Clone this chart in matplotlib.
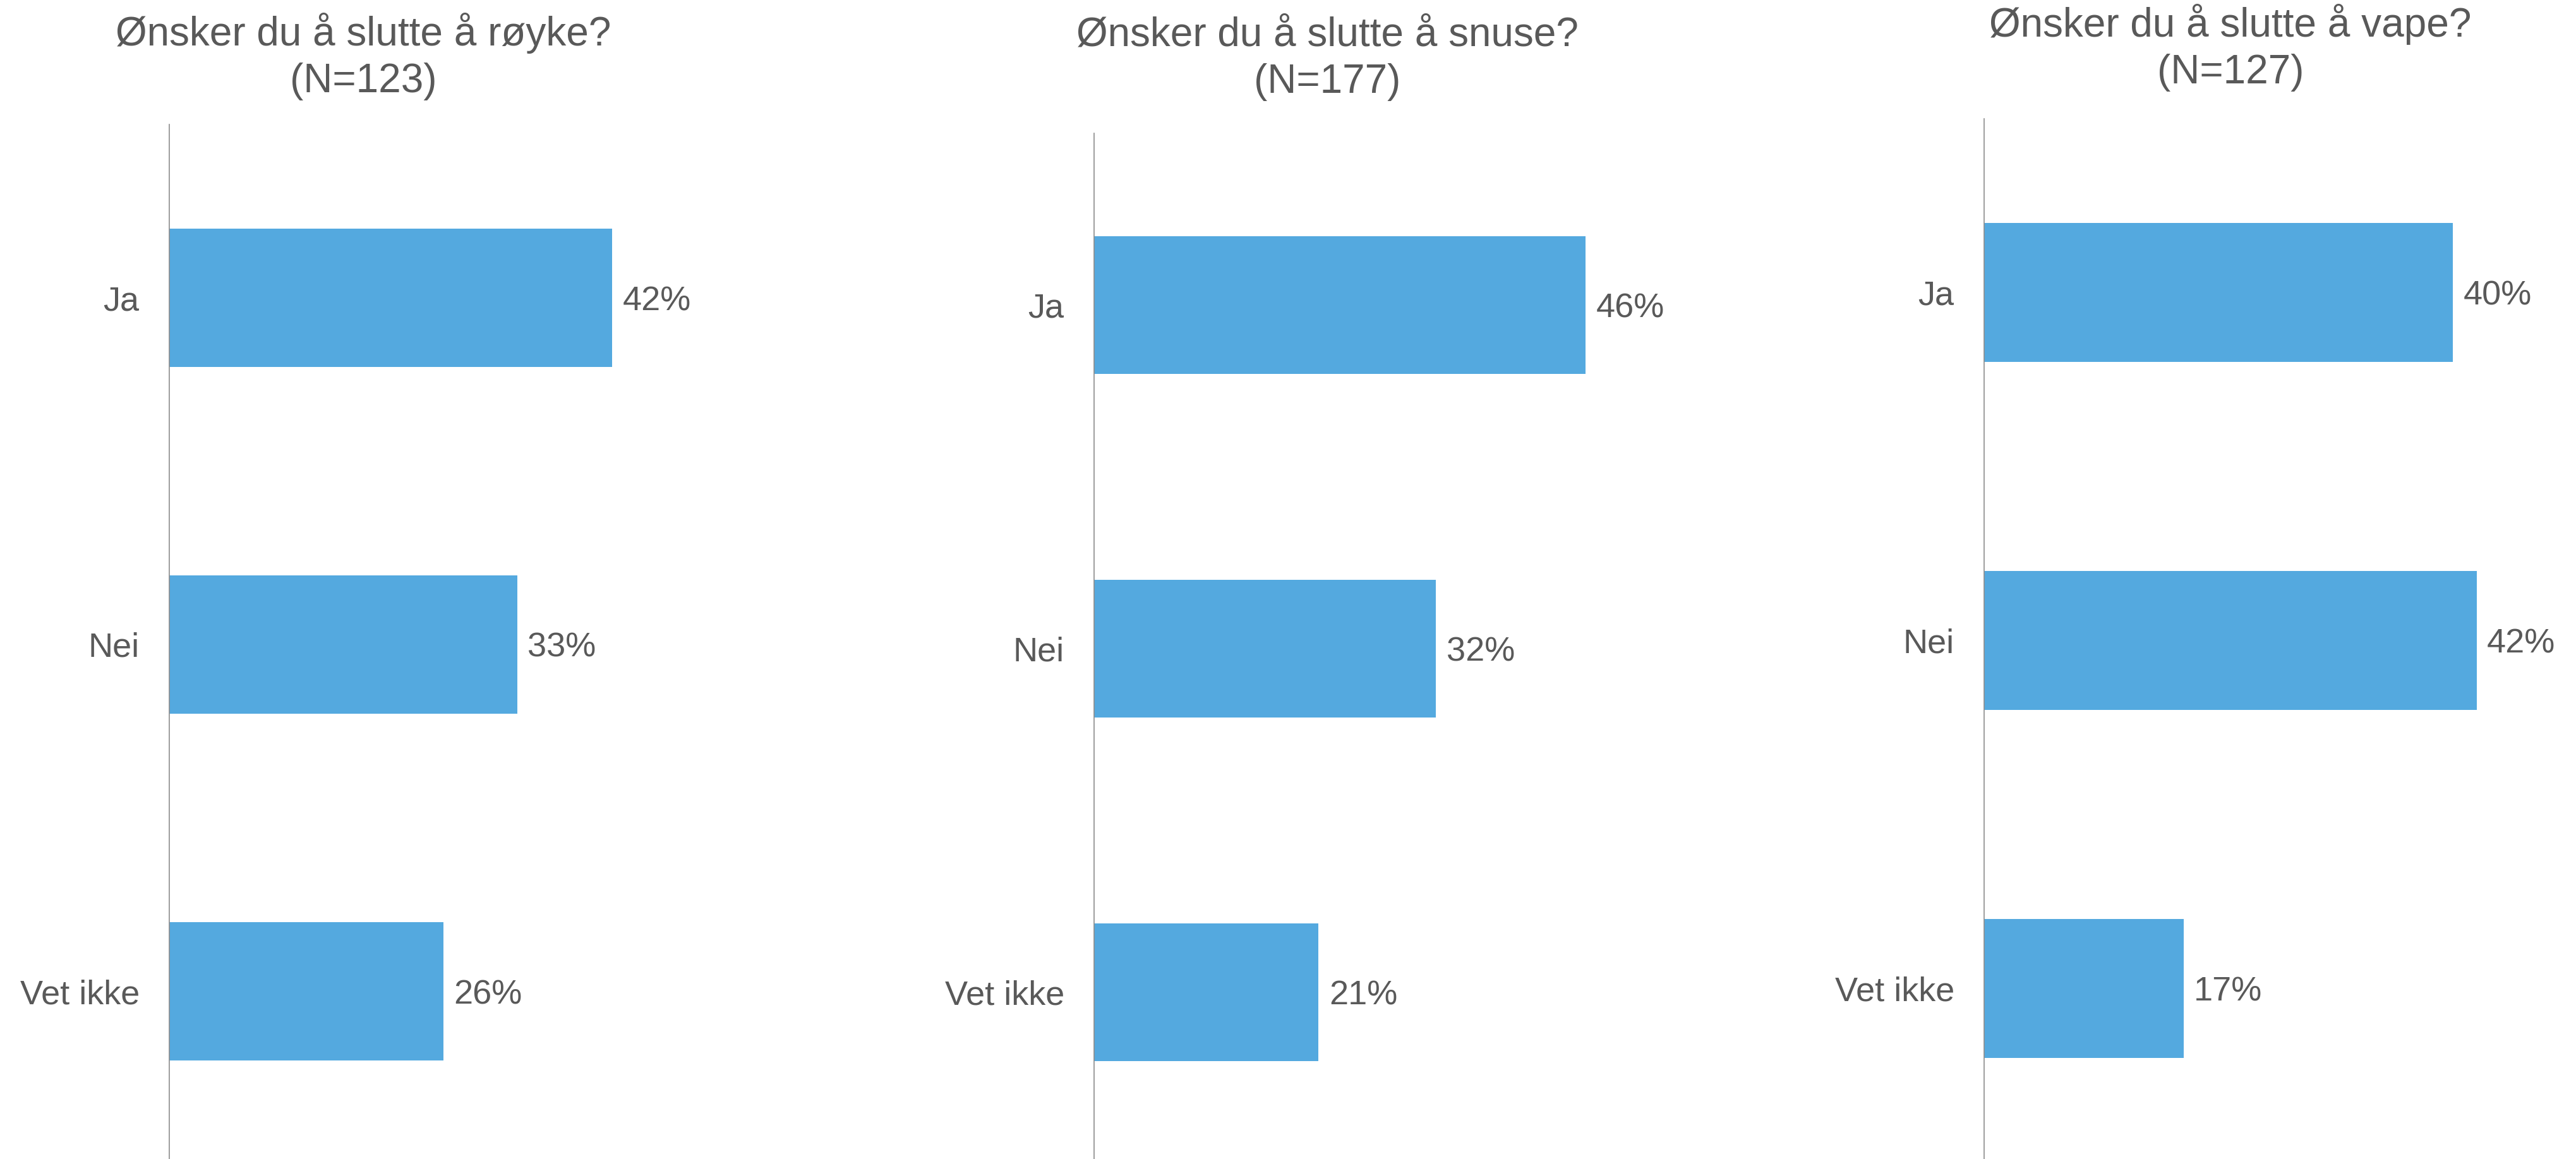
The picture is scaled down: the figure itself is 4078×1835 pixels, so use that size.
import matplotlib
matplotlib.use("Agg")
import matplotlib.pyplot as plt

plt.rcParams['font.family'] = ['Liberation Sans', 'DejaVu Sans']

categories = ["Ja", "Nei", "Vet ikke"]
titles = ["Ønsker du å slutte å røyke?\n(N=123)",
          "Ønsker du å slutte å snuse?\n(N=177)",
          "Ønsker du å slutte å vape?\n(N=127)"]
royke = [42, 33, 26]
snuse = [46, 32, 21]
vape = [40, 42, 17]
series = [royke, snuse, vape]

W, H = 4078, 1835
DPI = 200
fig = plt.figure(figsize=(W / DPI, H / DPI), dpi=DPI)
fig.patch.set_facecolor("white")

TEXT = "#595959"
BAR = "#54A9DF"
AXIS = "#8C8C8C"

# pixel layout: (left, top, bottom, px per %), title centre x, title top baseline
layout = [
    (268, 197, 1844, 16.69, 575, 72),
    (1732, 211, 1843, 16.91, 2101, 73),
    (3141, 188, 1840, 18.56, 3531, 58),
]
XMAX = 50

for vals, title, (lx, ty, by, ppp, tcx, tby) in zip(series, titles, layout):
    ax = fig.add_axes([lx / W, 1 - by / H, XMAX * ppp / W, (by - ty) / H])
    y = list(range(len(categories)))
    ax.barh(y, vals, height=0.4, color=BAR, edgecolor="none")
    ax.set_ylim(len(categories) - 0.5, -0.5)
    ax.set_xlim(0, XMAX)
    ax.set_yticks(y)
    ax.set_yticklabels(categories, fontsize=19.5, color=TEXT)
    ax.tick_params(axis="y", length=0, pad=17)
    ax.set_xticks([])
    for s in ["top", "right", "bottom"]:
        ax.spines[s].set_visible(False)
    ax.spines["left"].set_color(AXIS)
    ax.spines["left"].set_linewidth(0.6)
    ax.set_facecolor("none")
    for yi, v in zip(y, vals):
        ax.annotate(f"{v}%", xy=(v, yi), xytext=(6, 0), textcoords="offset points",
                    ha="left", va="center_baseline", fontsize=19.5, color=TEXT)
    lines = title.split("\n")
    fig.text(tcx / W, 1 - tby / H, lines[0], ha="center", va="baseline",
             fontsize=23, color=TEXT)
    fig.text(tcx / W, 1 - (tby + 74) / H, lines[1], ha="center", va="baseline",
             fontsize=23, color=TEXT)

fig.savefig("out.png", dpi=DPI, facecolor="white")
